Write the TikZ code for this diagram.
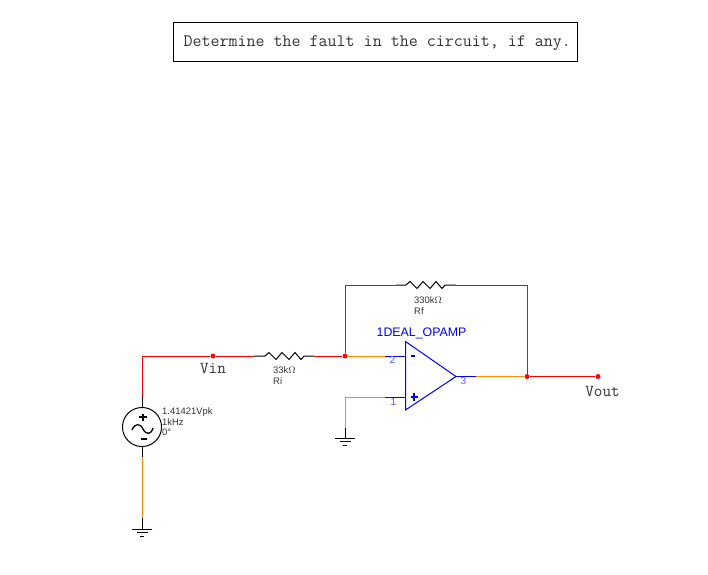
\documentclass[tikz,border=0pt]{standalone}
\usepackage{fontspec}
\setmainfont{Liberation Sans}
\definecolor{wirered}{RGB}{255,0,0}
\definecolor{wireorange}{RGB}{255,140,0}
\definecolor{partblue}{RGB}{0,0,255}
\definecolor{pinblue}{RGB}{90,90,245}
\tikzset{
  redwire/.style={draw=wirered,line width=0.85pt},
  orangewire/.style={draw=wireorange,line width=0.85pt},
  bluewire/.style={draw=partblue,line width=0.85pt},
  lead/.style={draw=black,line width=0.85pt},
  junction/.style={circle,fill=wirered,inner sep=0pt,minimum size=4.2pt},
  netlabel/.style={inner sep=0pt,font=\ttfamily\fontsize{14.2}{15}\selectfont,text=black!80},
  partlabel/.style={inner sep=0pt,anchor=west,font=\fontsize{8}{8.6}\selectfont,text=black!80},
  pinlabel/.style={inner sep=0pt,font=\fontsize{8.6}{9}\selectfont,text=pinblue}
}
\begin{document}
\begin{tikzpicture}[x=0.85pt,y=-0.85pt]
\useasboundingbox (0,0) rectangle (708,575);
% title
\node [draw=black,line width=0.85pt,minimum width=404*0.85pt,minimum height=39*0.85pt,inner sep=0pt,
  text height=10pt,text depth=1.2pt,
  font=\ttfamily\fontsize{14.87}{15}\selectfont,text=black!80] (title) at (375.5,41.5) {\hspace*{3pt}Determine the fault in the circuit, if any.};
% junctions
\node [junction] (jin) at (345,356) {};
\node [junction] (jout) at (527,376.5) {};
\node [junction] (vin) at (213,356) {};
\node [junction] (vout) at (598,376.5) {};
% source
\node [draw=black,circle,line width=0.85pt,minimum size=33.2pt,inner sep=0pt] (vs) at (142,427) {};
\coordinate (vstop) at (142,397);
\coordinate (vsbot) at (142,457);
\coordinate (gnd1) at (142,518);
\coordinate (gnd1b) at (142,529);
\coordinate (corner1) at (142,356);
\draw [lead] (vstop) -- (vs.north);
\draw [lead] (vs.south) -- (vsbot);
\draw [redwire] (vstop) -- (corner1) -- (vin);
\draw [orangewire] (vsbot) -- (gnd1);
\draw [lead] (gnd1) -- (gnd1b);
\draw [lead] (132,529) -- (152,529);
\draw [lead] (137,532.5) -- (148,532.5);
\draw [lead] (140,536) -- (144,536);
\draw [black,line width=1.2pt] (139,417) -- (147,417) (143,413.5) -- (143,421);
\draw [black,line width=1.2pt] (141,439) -- (147,439);
\draw [black,line width=1.1pt] (132,430) .. controls (135,423) and (140,423) .. (143,429) .. controls (146,435) and (151,435) .. (153,428);
\node [partlabel] (vslabel) at (162,423) {\begin{tabular}{@{}l@{}}1.41421Vpk\\1kHz\\0°\end{tabular}};
% input resistor
\coordinate (ri1) at (254,356);
\coordinate (ri2) at (265,356);
\coordinate (ri3) at (304,356);
\coordinate (ri4) at (314,356);
\draw [redwire] (vin) -- (ri1);
\draw [lead] (ri1) -- (ri2) -- (269,352.5) -- (276,359.5) -- (282,352.5) -- (289,359.5) -- (295,352.5) -- (301,359.5) -- (ri3) -- (ri4);
\draw [redwire] (ri4) -- (jin);
\node [partlabel] (rilabel) at (273,377) {\begin{tabular}{@{}l@{}}33k$\Omega$\\Ri\end{tabular}};
\node [netlabel] (vinlabel) at (213,368) {Vin};
% feedback resistor
\coordinate (fbl) at (345,285);
\coordinate (fbr) at (527,285);
\coordinate (rf1) at (396,285);
\coordinate (rf2) at (406,285);
\coordinate (rf3) at (445,285);
\coordinate (rf4) at (456,285);
\draw [redwire] (jin) -- (fbl) -- (rf1);
\draw [lead] (rf1) -- (rf2) -- (410,281.5) -- (417,288.5) -- (423,281.5) -- (430,288.5) -- (436,281.5) -- (442,288.5) -- (rf3) -- (rf4);
\draw [redwire] (rf4) -- (fbr) -- (jout);
\node [partlabel] (rflabel) at (414,307) {\begin{tabular}{@{}l@{}}330k$\Omega$\\Rf\end{tabular}};
% opamp
\coordinate (tl) at (405.5,341.5);
\coordinate (bl) at (405.5,410);
\coordinate (tip) at (456,376.5);
\draw [partblue,line width=0.85pt] (tl) -- (tip) -- (bl) -- cycle;
\node [inner sep=0pt,font=\fontsize{10.5}{12}\selectfont,text=partblue] (opname) at (421.5,333.3) {1DEAL\_OPAMP};
\coordinate (pin2) at (385,356);
\coordinate (pin2b) at (405.5,356);
\coordinate (pin1) at (385,397);
\coordinate (pin1b) at (405.5,397);
\coordinate (pin3) at (476,376.5);
\draw [orangewire] (jin) -- (pin2);
\draw [bluewire] (pin2) -- (pin2b);
\draw [bluewire] (pin1) -- (pin1b);
\draw [bluewire] (tip) -- (pin3);
\draw [orangewire] (pin3) -- (jout);
\draw [redwire] (jout) -- (vout);
\draw [partblue,line width=1.2pt] (411,356) -- (415,356);
\draw [partblue,line width=1.3pt] (410.5,397) -- (418,397) (414,393) -- (414,401);
\node [pinlabel] (p2) at (392.5,360) {2};
\node [pinlabel] (p1) at (393.5,402) {1};
\node [pinlabel] (p3) at (463.5,381) {3};
% second ground
\coordinate (cornerg) at (345,397);
\coordinate (gnd2) at (345,428);
\coordinate (gnd2b) at (345,438);
\draw [orangewire] (pin1) -- (cornerg) -- (gnd2);
\draw [lead] (gnd2) -- (gnd2b);
\draw [lead] (335,438) -- (355,438);
\draw [lead] (340,441.5) -- (351,441.5);
\draw [lead] (343,445) -- (347,445);
\node [netlabel] (voutlabel) at (602.5,391) {Vout};
\end{tikzpicture}
\end{document}
